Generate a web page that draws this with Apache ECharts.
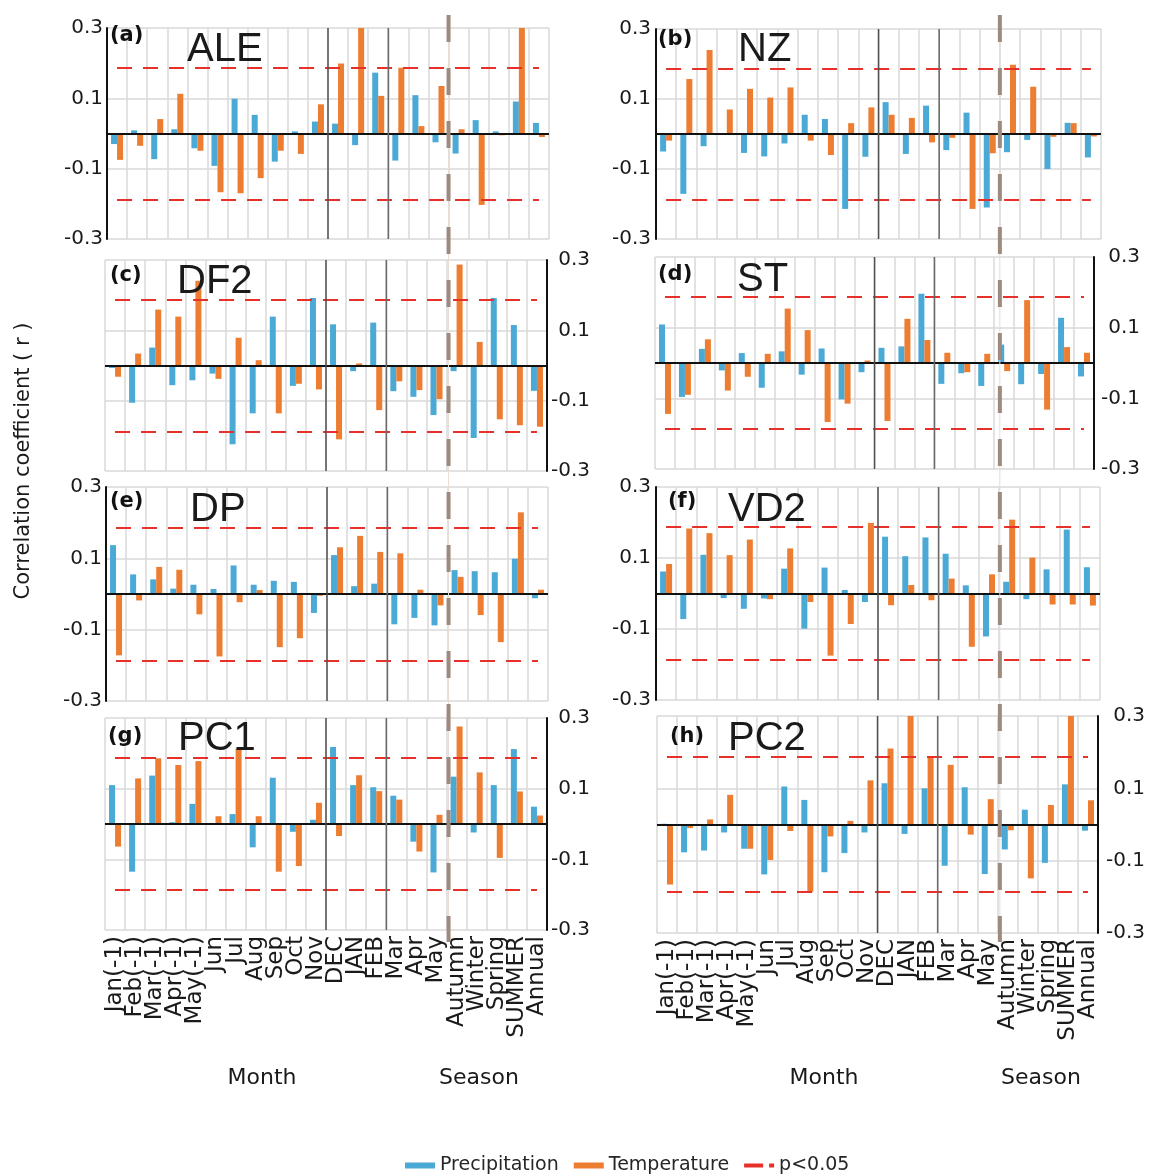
<!DOCTYPE html>
<html>
<head>
<meta charset="utf-8">
<script src="https://cdn.jsdelivr.net/npm/echarts@6/dist/echarts.min.js"></script>
<style>
html, body { margin: 0; padding: 0; background: #fff; }
#main { width: 1151px; height: 1176px; }
</style>
</head>
<body>
<div id="main"></div>
<script>
// categories: previous-year months, current months, seasons
const categories = ['Jan(-1)', 'Feb(-1)', 'Mar(-1)', 'Apr(-1)', 'May(-1)', 'Jun', 'Jul', 'Aug', 'Sep', 'Oct', 'Nov',
    'DEC', 'JAN', 'FEB', 'Mar', 'Apr', 'May', 'Autumn', 'Winter', 'Spring', 'SUMMER', 'Annual'];

// (a) ALE
const prec_a = [-0.030, 0.009, -0.073, 0.012, -0.042, -0.092, 0.099, 0.053, -0.080, 0.006, 0.034,
    0.028, -0.033, 0.173, -0.077, 0.109, -0.025, -0.057, 0.038, 0.006, 0.091, 0.030];
const temp_a = [-0.075, -0.035, 0.041, 0.113, -0.049, -0.167, -0.170, -0.127, -0.049, -0.058, 0.083,
    0.199, 0.300, 0.107, 0.187, 0.021, 0.135, 0.012, -0.203, -0.005, 0.300, -0.010];
// (b) NZ
const prec_b = [-0.050, -0.171, -0.035, 0.000, -0.054, -0.064, -0.027, 0.055, 0.043, -0.214, -0.065,
    0.091, -0.057, 0.081, -0.046, 0.061, -0.210, -0.052, -0.017, -0.100, 0.032, -0.067];
const temp_b = [-0.019, 0.157, 0.240, 0.070, 0.129, 0.104, 0.133, -0.019, -0.060, 0.031, 0.076,
    0.055, 0.046, -0.024, -0.011, -0.214, -0.055, 0.198, 0.135, -0.008, 0.031, -0.007];
// (c) DF2
const prec_c = [-0.007, -0.106, 0.051, -0.056, -0.042, -0.023, -0.224, -0.136, 0.139, -0.058, 0.192,
    0.117, -0.016, 0.122, -0.073, -0.089, -0.141, -0.016, -0.206, 0.192, 0.115, -0.072];
const temp_c = [-0.032, 0.034, 0.159, 0.139, 0.241, -0.038, 0.079, 0.015, -0.136, -0.052, -0.068,
    -0.210, 0.006, -0.127, -0.045, -0.070, -0.096, 0.287, 0.067, -0.153, -0.170, -0.174];
// (d) ST
const prec_d = [0.109, -0.096, 0.040, -0.021, 0.028, -0.070, 0.033, -0.033, 0.041, -0.103, -0.026,
    0.043, 0.047, 0.196, -0.059, -0.029, -0.065, 0.052, -0.060, -0.031, 0.128, -0.038];
const temp_d = [-0.144, -0.090, 0.067, -0.078, -0.039, 0.026, 0.154, 0.093, -0.167, -0.115, 0.007,
    -0.164, 0.125, 0.065, 0.029, -0.026, 0.026, -0.023, 0.178, -0.132, 0.045, 0.029];
// (e) DP
const prec_e = [0.137, 0.055, 0.041, 0.015, 0.026, 0.014, 0.080, 0.026, 0.037, 0.034, -0.053,
    0.109, 0.022, 0.029, -0.085, -0.067, -0.088, 0.067, 0.064, 0.061, 0.099, -0.012];
const temp_e = [-0.172, -0.018, 0.076, 0.068, -0.057, -0.175, -0.023, 0.011, -0.149, -0.124, -0.005,
    0.131, 0.163, 0.118, 0.114, 0.012, -0.032, 0.048, -0.059, -0.135, 0.229, 0.012];
// (f) VD2
const prec_f = [0.062, -0.072, 0.109, -0.013, -0.043, -0.014, 0.070, -0.099, 0.073, 0.010, -0.024,
    0.160, 0.105, 0.158, 0.112, 0.023, -0.121, 0.033, -0.016, 0.068, 0.180, 0.074];
const temp_f = [0.083, 0.183, 0.170, 0.108, 0.152, -0.016, 0.127, -0.024, -0.175, -0.086, 0.199,
    -0.033, 0.024, -0.019, 0.042, -0.150, 0.054, 0.208, 0.101, -0.031, -0.031, -0.034];
// (g) PC1
const prec_g = [0.110, -0.135, 0.137, 0.005, 0.057, 0.000, 0.028, -0.066, 0.131, -0.022, 0.012,
    0.218, 0.110, 0.104, 0.080, -0.050, -0.137, 0.134, -0.024, 0.110, 0.212, 0.049];
const temp_g = [-0.064, 0.129, 0.186, 0.167, 0.178, 0.022, 0.214, 0.022, -0.135, -0.119, 0.060,
    -0.034, 0.138, 0.093, 0.069, -0.078, 0.026, 0.276, 0.146, -0.096, 0.092, 0.024];
// (h) PC2
const prec_h = [0.002, -0.077, -0.072, -0.022, -0.067, -0.138, 0.105, 0.068, -0.132, -0.079, -0.022,
    0.114, -0.026, 0.100, -0.114, 0.103, -0.137, -0.069, 0.041, -0.106, 0.111, -0.017];
const temp_h = [-0.166, -0.010, 0.014, 0.082, -0.067, -0.098, -0.018, -0.186, -0.033, 0.010, 0.122,
    0.210, 0.300, 0.184, 0.165, -0.028, 0.070, -0.016, -0.149, 0.054, 0.300, 0.067];

const panelLabels = ['(a)', '(b)', '(c)', '(d)', '(e)', '(f)', '(g)', '(h)'];
const panelNames = ['ALE', 'NZ', 'DF2', 'ST', 'DP', 'VD2', 'PC1', 'PC2'];
const precData = [prec_a, prec_b, prec_c, prec_d, prec_e, prec_f, prec_g, prec_h];
const tempData = [temp_a, temp_b, temp_c, temp_d, temp_e, temp_f, temp_g, temp_h];
const critR = 0.187;  // p<0.05 threshold

const BLUE = '#4BA9D5', ORANGE = '#ED7D31', RED = '#E8302A', GRID = '#D9D9D9';
const FONT = 'DejaVu Sans';

// plot boxes [left, top, width, height]
const rects = [
    [107, 28, 442, 211], [656, 29, 445, 210],
    [105, 260, 442, 211], [655, 257, 439, 212],
    [106, 487, 442, 214], [656, 487, 444, 213],
    [105, 718, 442, 212], [657, 716, 441, 217]
];
const ySide = ['left', 'left', 'right', 'right', 'left', 'left', 'right', 'right'];
const yMargin = [4, 5, 43, 46, 4, 5, 43, 47];
// title positions [labelX, labelY, nameX, nameY]
const titlePos = [
    [110, 36, 187, 50], [658, 40, 738, 50],
    [110, 276, 177, 282], [658, 275, 737, 280],
    [110, 502, 190, 510], [668, 502, 728, 510],
    [108, 737, 178, 739], [670, 737, 728, 739]
];

let grids = [], xAxes = [], yAxes = [], series = [];
for (let i = 0; i < 8; i++) {
    const r = rects[i];
    grids.push({ left: r[0], top: r[1], width: r[2], height: r[3], containLabel: false });
    xAxes.push({
        type: 'category', gridIndex: i, data: categories, position: 'bottom',
        axisLine: { show: false, onZero: false },
        axisTick: { show: false },
        splitLine: { show: true, interval: 0, lineStyle: { color: GRID, width: 1.5 } },
        axisLabel: {
            show: i >= 6, interval: 0, rotate: 90, margin: 6,
            fontSize: 23, fontFamily: FONT, color: '#1a1a1a'
        }
    });
    yAxes.push({
        type: 'value', gridIndex: i, position: ySide[i],
        min: -0.3, max: 0.3, interval: 0.2,
        axisLine: { show: true, lineStyle: { color: '#111', width: 2 } },
        axisTick: { show: false },
        splitLine: { show: true, lineStyle: { color: GRID, width: 1.5 } },
        axisLabel: {
            margin: yMargin[i], fontSize: 20, fontFamily: FONT, color: '#1a1a1a',
            align: 'right',
            formatter: v => String(Math.round(v * 10) / 10)
        }
    });
    series.push({
        type: 'bar', name: 'Precipitation', xAxisIndex: i, yAxisIndex: i,
        data: precData[i], barWidth: 6, barGap: '0%',
        itemStyle: { color: BLUE }
    });
    series.push({
        type: 'bar', name: 'Temperature', xAxisIndex: i, yAxisIndex: i,
        data: tempData[i], barWidth: 6, barGap: '0%',
        itemStyle: { color: ORANGE },
        markLine: {
            silent: true, symbol: 'none', label: { show: false },
            lineStyle: { color: '#111', width: 2, type: 'solid' },
            data: [{ yAxis: 0 }]
        }
    });
    series.push({
        type: 'line', name: 'p<0.05', xAxisIndex: i, yAxisIndex: i,
        data: [], symbol: 'none', color: RED,
        itemStyle: { color: RED },
        lineStyle: { color: RED, width: 2, type: [15, 11] },
        markLine: {
            silent: true, symbol: 'none', label: { show: false },
            lineStyle: { color: RED, width: 2, type: [15, 11] },
            data: [
                [{ coord: [categories[0], critR] }, { coord: [categories[21], critR] }],
                [{ coord: [categories[0], -critR] }, { coord: [categories[21], -critR] }]
            ]
        }
    });
}

let option = {
    animation: false,
    backgroundColor: '#fff',
    grid: grids,
    xAxis: xAxes,
    yAxis: yAxes,
    legend: {
        left: 400, top: 1151,
        itemWidth: 30, itemHeight: 6, itemGap: 15,
        textStyle: { fontSize: 19, fontFamily: FONT, color: '#262626' },
        data: [
            { name: 'Precipitation', icon: 'rect' },
            { name: 'Temperature', icon: 'rect' },
            { name: 'p<0.05', icon: 'path://M0,0H19V4H0Z M25,0H30V4H25Z' }
        ]
    },
    series: series
};

let chart = echarts.init(document.getElementById('main'));
chart.setOption(option);

// separators, titles and axis names
let g = [];
function colX(i, a, b) {
    return (chart.convertToPixel({ xAxisIndex: i }, categories[a]) +
        chart.convertToPixel({ xAxisIndex: i }, categories[b])) / 2;
}
for (let i = 0; i < 8; i++) {
    const yTop = chart.convertToPixel({ yAxisIndex: i }, 0.3);
    const yBot = chart.convertToPixel({ yAxisIndex: i }, -0.3);
    [[10, 11, '#505050'], [13, 14, '#6a6a6a']].forEach(s => {
        const x = colX(i, s[0], s[1]);
        g.push({
            type: 'line', z: 10, silent: true,
            shape: { x1: x, y1: yTop, x2: x, y2: yBot },
            style: { stroke: s[2], lineWidth: 1.5 }
        });
    });
    const t = titlePos[i];
    g.push({
        type: 'text', z: 12, x: t[0], y: t[1],
        style: { text: panelLabels[i], font: 'bold 21px "DejaVu Sans"', fill: '#111', textVerticalAlign: 'middle' }
    });
    g.push({
        type: 'text', z: 12, x: t[2], y: t[3],
        style: { text: panelNames[i], font: '40px "Liberation Sans"', fill: '#1a1a1a', textVerticalAlign: 'middle' }
    });
}
// dashed month/season divider running through each column
[0, 1].forEach(i => {
    const x = colX(i, 16, 17);
    g.push({
        type: 'line', z: 9, silent: true,
        shape: { x1: x, y1: 15, x2: x, y2: 942 },
        style: { stroke: '#E6DDD6', lineWidth: 1 }
    });
    g.push({
        type: 'line', z: 11, silent: true,
        shape: { x1: x, y1: 15, x2: x, y2: 942 },
        style: { stroke: '#9E8A7E', lineWidth: 4, lineDash: [27, 26] }
    });
});
g.push({
    type: 'text', z: 12, x: 24, y: 461, rotation: Math.PI / 2,
    style: { text: 'Correlation coefficient ( r )', font: '21px "DejaVu Sans"', fill: '#1a1a1a', textAlign: 'center', textVerticalAlign: 'middle' }
});
[[262, 'Month'], [479, 'Season'], [824, 'Month'], [1041, 'Season']].forEach(a => {
    g.push({
        type: 'text', z: 12, x: a[0], y: 1078,
        style: { text: a[1], font: '22px "DejaVu Sans"', fill: '#1a1a1a', textAlign: 'center', textVerticalAlign: 'middle' }
    });
});
chart.setOption({ graphic: g });
</script>
